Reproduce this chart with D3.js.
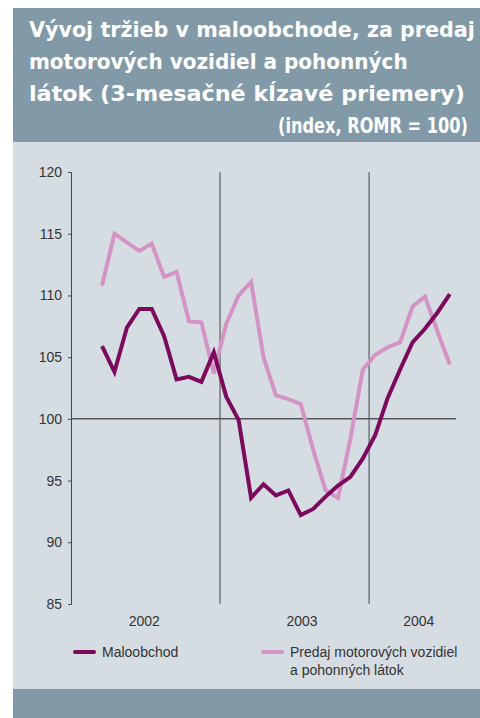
<!DOCTYPE html>
<html>
<head>
<meta charset="utf-8">
<script src="https://cdn.jsdelivr.net/npm/d3@7"></script>
<style>
body { margin: 0; background: #fff; }
text { font-family: "Liberation Sans", Arial, sans-serif; }
</style>
</head>
<body>
<div id="chart-area"></div>
<script>
// months counted from Jan 2002 (0); first 3-month average is March 2002
var firstMonth = 2;
var maloobchod = [105.9, 103.8, 107.4, 108.9, 108.9, 106.7, 103.2, 103.4, 103.0, 105.4,
    101.8, 99.9, 93.6, 94.7, 93.8, 94.2, 92.2, 92.7, 93.7, 94.6,
    95.3, 96.8, 98.7, 101.7, 104.0, 106.2, 107.3, 108.6, 110.1];
var predaj = [110.8, 115.0, 114.3, 113.6, 114.2, 111.5, 111.9, 107.9, 107.8, 103.7,
    107.7, 110.0, 111.1, 105.0, 101.9, 101.6, 101.2, 97.5, 94.2, 93.6,
    98.4, 104.0, 105.2, 105.8, 106.2, 109.1, 109.9, 107.1, 104.4];
var yTicks = [85, 90, 95, 100, 105, 110, 115, 120];
var years = ["2002", "2003", "2004"];
var yearLabelPos = [5.9, 18.6, 28.0];
var yearBounds = [12, 24];
var titleLines = ["Vývoj tržieb v maloobchode, za predaj",
    "motorových vozidiel a pohonných",
    "látok (3-mesačné kĺzavé priemery)",
    "(index, ROMR = 100)"];
var seriesNames = ["Maloobchod", "Predaj motorových vozidiel", "a pohonných látok"];

var width = 480, height = 718;
var darkColor = "#7b0a5c", lightColor = "#d393c4";

var svg = d3.select("#chart-area").append("svg")
    .attr("width", width)
    .attr("height", height);

// panel backgrounds
svg.append("rect").attr("x", 13).attr("y", 8).attr("width", 467).attr("height", 710)
    .attr("fill", "#d5dde3");
svg.append("rect").attr("x", 13).attr("y", 8).attr("width", 467).attr("height", 134)
    .attr("fill", "#829aa7");
svg.append("rect").attr("x", 13).attr("y", 689).attr("width", 467).attr("height", 29)
    .attr("fill", "#829aa7");

// title: bold face squeezed horizontally to the widths in the original
var titleX = [29, 29, 29, 278];
var titleW = [446, 379, 436, 190];
svg.selectAll(".title")
    .data(titleLines)
    .enter()
    .append("text")
        .attr("class", "title")
        .attr("font-size", 22)
        .attr("font-weight", "bold")
        .attr("fill", "#fff")
        .style("font-family", "'DejaVu Sans Condensed', 'Liberation Sans', sans-serif")
        .text(function(d){ return d; })
        .attr("transform", function(d, i){
            var natural = this.getComputedTextLength();
            var k = titleW[i] / natural;
            return "translate(" + titleX[i] + "," + (37 + i * 32) + ") scale(" + k + ",1)";
        });

// scales
var x = d3.scaleLinear().domain([0, 31]).range([71, 456]);
var y = d3.scaleLinear().domain([85, 120]).range([604, 172]);

// y axis
var yAxis = d3.axisLeft(y).tickValues(yTicks).tickSize(3).tickPadding(6);
var gy = svg.append("g").attr("transform", "translate(" + x(0) + ",0)").call(yAxis);
gy.select(".domain").attr("stroke", "#444");
gy.selectAll(".tick line").attr("stroke", "#444");
gy.selectAll(".tick text")
    .attr("font-size", 14)
    .attr("fill", "#333")
    .attr("font-family", "Liberation Sans, Arial, sans-serif");

// year boundaries
svg.selectAll(".yearline")
    .data(yearBounds)
    .enter()
    .append("line")
        .attr("x1", function(d){ return x(d); })
        .attr("x2", function(d){ return x(d); })
        .attr("y1", y(120))
        .attr("y2", y(85))
        .attr("stroke", "#444")
        .attr("stroke-width", 1);

// 100 line
svg.append("line")
    .attr("x1", x(0)).attr("x2", x(31))
    .attr("y1", y(100)).attr("y2", y(100))
    .attr("stroke", "#555")
    .attr("stroke-width", 1.5);

// year labels
svg.selectAll(".year")
    .data(years)
    .enter()
    .append("text")
        .attr("x", function(d, i){ return x(yearLabelPos[i]); })
        .attr("y", 626)
        .attr("text-anchor", "middle")
        .attr("font-size", 14)
        .attr("fill", "#333")
        .text(function(d){ return d; });

// lines
var line = d3.line()
    .x(function(d, i){ return x(firstMonth + i + 0.5); })
    .y(function(d){ return y(d); });

svg.append("path")
    .datum(predaj)
    .attr("d", line)
    .attr("fill", "none")
    .attr("stroke", lightColor)
    .attr("stroke-width", 4)
    .attr("stroke-linejoin", "miter");

svg.append("path")
    .datum(maloobchod)
    .attr("d", line)
    .attr("fill", "none")
    .attr("stroke", darkColor)
    .attr("stroke-width", 4)
    .attr("stroke-linejoin", "miter");

// legend
var legend = [
    { x: 75, color: darkColor, lines: [seriesNames[0]] },
    { x: 263, color: lightColor, lines: [seriesNames[1], seriesNames[2]] }
];
legend.forEach(function(l){
    svg.append("line")
        .attr("x1", l.x).attr("x2", l.x + 19)
        .attr("y1", 652).attr("y2", 652)
        .attr("stroke", l.color)
        .attr("stroke-width", 4)
        .attr("stroke-linecap", "round");
    l.lines.forEach(function(t, i){
        svg.append("text")
            .attr("x", l.x + 27)
            .attr("y", 657 + i * 18)
            .attr("font-size", 14)
            .attr("fill", "#333")
            .text(t);
    });
});
</script>
</body>
</html>
